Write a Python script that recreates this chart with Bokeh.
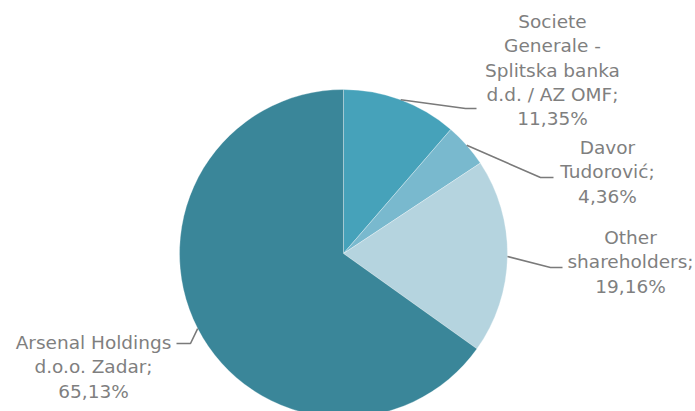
import math
from bokeh.plotting import figure
from bokeh.models import Range1d, ColumnDataSource
from bokeh.core.properties import value
from bokeh.embed import file_html
from bokeh.resources import INLINE

# ---- data ----
categories = ["Societe Generale - Splitska banka d.d. / AZ OMF", "Davor Tudorović",
              "Other shareholders", "Arsenal Holdings d.o.o. Zadar"]
shares = [11.35, 4.36, 19.16, 65.13]
label_lines = [
    ["Societe", "Generale -", "Splitska banka", "d.d. / AZ OMF;", "11,35%"],
    ["Davor", "Tudorović;", "4,36%"],
    ["Other", "shareholders;", "19,16%"],
    ["Arsenal Holdings", "d.o.o. Zadar;", "65,13%"],
]
colors = ["#46a2ba", "#79b9ce", "#b5d4df", "#3a8699"]

# ---- layout ----
W, H = 695, 411
cx, cy, R = 343, H - 253, 164
label_pos = [(552, 21), (607, 147), (630, 237), (93, 342)]  # center x, first line y (image coords)
elbows = [((465, 108), (476, 108)), ((540, 177), (553, 177)),
          ((550, 267), (562, 267)), ((190, 343), (176, 343))]
line_h = 24.3

p = figure(width=W, height=H, output_backend="svg", toolbar_location=None,
           x_range=Range1d(0, W), y_range=Range1d(0, H), min_border=0)
p.axis.visible = False
p.grid.visible = False
p.outline_line_color = None
p.background_fill_color = "white"
p.border_fill_color = "white"

total = sum(shares)
cum = 0.0
starts, ends, mids = [], [], []
for s in shares:
    a0 = math.pi / 2 - 2 * math.pi * cum / total
    cum += s
    a1 = math.pi / 2 - 2 * math.pi * cum / total
    starts.append(a0)
    ends.append(a1)
    mids.append((a0 + a1) / 2)

src = ColumnDataSource(dict(start=starts, end=ends, color=colors, name=categories))
p.wedge(x=cx, y=cy, radius=R, start_angle="start", end_angle="end", direction="clock",
        fill_color="color", line_color="white", line_width=0.6, line_alpha=0.5, source=src)

# leader lines
for m, (e1, e2) in zip(mids, elbows):
    xs = [cx + R * math.cos(m), e1[0], e2[0]]
    ys = [cy + R * math.sin(m), H - e1[1], H - e2[1]]
    p.line(xs, ys, line_color="#7a7a7a", line_width=1.6)

# labels
for lines, (lx, ly) in zip(label_lines, label_pos):
    xs = [lx] * len(lines)
    ys = [H - (ly + i * line_h) for i in range(len(lines))]
    p.text(x=xs, y=ys, text=lines, text_align="center", text_baseline="middle",
           text_font=value("DejaVu Sans"), text_font_size="18.5px", text_color="#7f7f7f")

open("out.html", "w").write(file_html(p, INLINE))
